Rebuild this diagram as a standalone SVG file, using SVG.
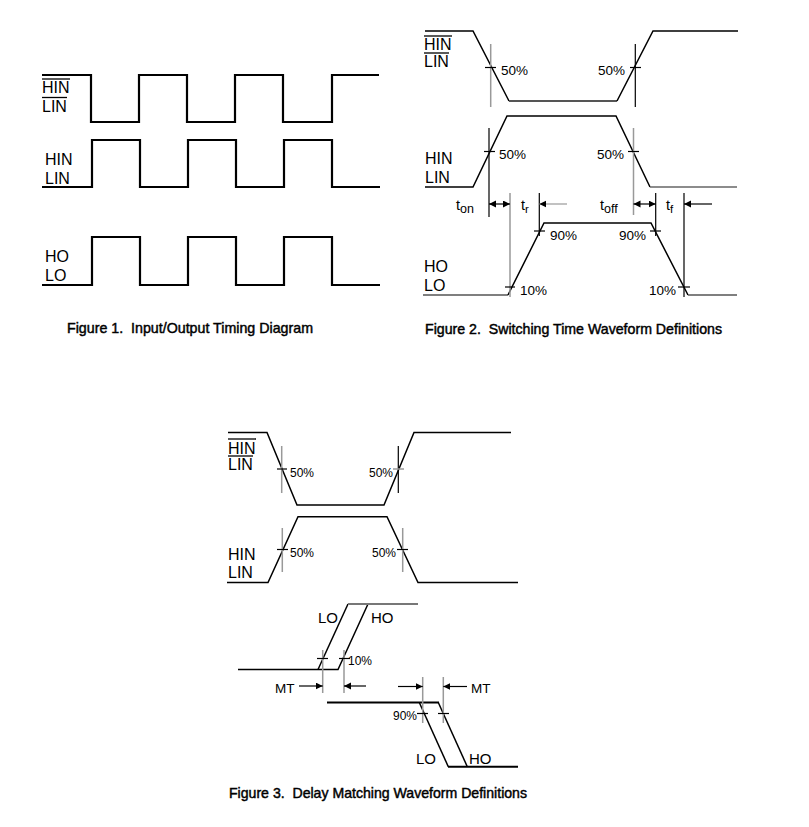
<svg xmlns="http://www.w3.org/2000/svg" width="809" height="827" viewBox="0 0 809 827">
<style>
text{font-family:"Liberation Sans",Arial,sans-serif;fill:#000}
.lbl{font-size:16px}
.pct{font-size:13.5px}
.pct3{font-size:12px}
.cap{font-size:14.5px;stroke:#000;stroke-width:0.45;white-space:pre}
.w1{fill:none;stroke:#000;stroke-width:2.2}
.w{fill:none;stroke:#000;stroke-width:1.5}
.wg{fill:none;stroke:#777;stroke-width:2}
.wb{fill:none;stroke:#000;stroke-width:2}
.mk{stroke:#000;stroke-width:1.2;fill:none}
.mg{stroke:#999;stroke-width:1.5;fill:none}
.ov{stroke:#000;stroke-width:1.3}
.ar{stroke:#000;stroke-width:1.2;fill:none;marker-end:url(#ah)}
.arg{stroke:#999;stroke-width:1.2;fill:none;marker-end:url(#ah)}
.dbl{stroke:#000;stroke-width:1.2;fill:none;marker-start:url(#ahs);marker-end:url(#ah)}
</style>
<defs>
<marker id="ah" markerUnits="userSpaceOnUse" markerWidth="8" markerHeight="8" refX="7" refY="3.5" orient="auto"><path d="M0,0 L7,3.5 L0,7 z" fill="#000"/></marker>
<marker id="ahs" markerUnits="userSpaceOnUse" markerWidth="8" markerHeight="8" refX="7" refY="3.5" orient="auto-start-reverse"><path d="M0,0 L7,3.5 L0,7 z" fill="#000"/></marker>
</defs>
<rect width="809" height="827" fill="#fff"/>

<!-- Figure 1 -->
<g id="fig1">
<g id="f1-hinbar">
<polyline class="w1" points="42,75 91,75 91,122 139,122 139,75 187,75 187,122 235,122 235,75 283,75 283,122 332,122 332,75 379,75"/>
<text class="lbl" x="42" y="93">HIN</text>
<line class="ov" x1="42" y1="79" x2="70" y2="79"/>
<text class="lbl" x="42" y="112">LIN</text>
<line class="ov" x1="42" y1="97.5" x2="67" y2="97.5"/>
</g>
<g id="f1-hin">
<polyline class="w1" points="42,187 92,187 92,140 140,140 140,187 188,187 188,140 236,140 236,187 284,187 284,140 332,140 332,187 380,187"/>
<text class="lbl" x="45" y="165">HIN</text>
<text class="lbl" x="45" y="184">LIN</text>
</g>
<g id="f1-ho">
<polyline class="w1" points="42,285 92,285 92,237 140,237 140,285 188,285 188,237 236,237 236,285 284,285 284,237 332,237 332,285 380,285"/>
<text class="lbl" x="45" y="262">HO</text>
<text class="lbl" x="45" y="281">LO</text>
</g>
<text id="cap1" class="cap" x="67" y="333" textLength="246" lengthAdjust="spacingAndGlyphs">Figure 1.  Input/Output Timing Diagram</text>
</g>

<!-- Figure 2 -->
<g id="fig2">
<g id="f2-hinbar">
<polyline class="w" points="425,31 473,31 509,101"/>
<polyline fill="none" stroke="#555" stroke-width="1.8" points="509,101 617,101"/>
<polyline class="w" points="617,101 653,31 738,31"/>
<text class="lbl" x="424" y="50">HIN</text>
<line class="ov" x1="424" y1="36" x2="452" y2="36"/>
<text class="lbl" x="424" y="67">LIN</text>
<line class="ov" x1="424" y1="53" x2="449" y2="53"/>
</g>
<g id="f2-hin">
<polyline class="w" points="425,187 473,187 507,116 616,116 650,187"/>
<polyline fill="none" stroke="#666" stroke-width="1.5" points="650,187 737,187"/>
<text class="lbl" x="425" y="164">HIN</text>
<text class="lbl" x="425" y="183">LIN</text>
</g>
<g id="f2-ho">
<polyline fill="none" stroke="#555" stroke-width="1.5" points="423,295 508,295"/>
<polyline class="w" points="508,295 544,223 651,223 688,295"/>
<polyline fill="none" stroke="#555" stroke-width="1.5" points="688,295 737,295"/>
<text class="lbl" x="424" y="272">HO</text>
<text class="lbl" x="424" y="291">LO</text>
</g>
<g id="f2-markers">
<line class="mg" x1="490.7" y1="44" x2="490.7" y2="107"/>
<line class="mk" x1="485" y1="67.5" x2="496" y2="67.5"/>
<text class="pct" x="501" y="75">50%</text>
<line class="mk" x1="635.3" y1="44" x2="635.3" y2="107"/>
<line class="mk" x1="630" y1="67.5" x2="641" y2="67.5"/>
<text class="pct" x="598" y="75">50%</text>
<line class="mk" x1="489" y1="128" x2="489" y2="217"/>
<line class="mk" x1="484" y1="151.5" x2="495" y2="151.5"/>
<text class="pct" x="499" y="159">50%</text>
<line class="mg" x1="633.5" y1="128" x2="633.5" y2="215"/>
<line class="mk" x1="628" y1="151.5" x2="639" y2="151.5"/>
<text class="pct" x="597" y="159">50%</text>
<line class="mg" x1="510" y1="193" x2="510" y2="297"/>
<line class="mk" x1="505" y1="287" x2="515" y2="287"/>
<text class="pct" x="520" y="295">10%</text>
<line class="mk" x1="539.3" y1="193" x2="539.3" y2="236"/>
<line class="mk" x1="534" y1="231" x2="545" y2="231"/>
<text class="pct" x="550" y="240">90%</text>
<line class="mk" x1="655.7" y1="193" x2="655.7" y2="236"/>
<line class="mk" x1="650" y1="231" x2="661" y2="231"/>
<text class="pct" x="619" y="240">90%</text>
<line class="mk" x1="684" y1="193" x2="684" y2="297"/>
<line class="mk" x1="678" y1="287" x2="690" y2="287"/>
<text class="pct" x="649" y="295">10%</text>
</g>
<g id="f2-times">
<line class="dbl" x1="489" y1="204" x2="510" y2="204"/>
<line class="dbl" x1="633.5" y1="204" x2="655.7" y2="204"/>
<line class="arg" x1="567" y1="204" x2="539.3" y2="204"/>
<line class="ar" x1="712" y1="204" x2="684" y2="204"/>
<text x="456" y="210" font-size="14.5">t<tspan font-size="12.5" dy="3">on</tspan></text>
<text x="521" y="210" font-size="14.5">t<tspan font-size="11.5" dy="3">r</tspan></text>
<text x="600" y="210" font-size="14.5">t<tspan font-size="12.5" dy="3">off</tspan></text>
<text x="666" y="210" font-size="14.5">t<tspan font-size="11.5" dy="3">f</tspan></text>
</g>
<text id="cap2" class="cap" x="425" y="334" textLength="297" lengthAdjust="spacingAndGlyphs">Figure 2.  Switching Time Waveform Definitions</text>
</g>

<!-- Figure 3 -->
<g id="fig3">
<g id="f3-hinbar">
<polyline class="w" points="228,432.5 267,432.5 297,505 384,505 414,432.5 511,432.5"/>
<text class="lbl" x="228" y="453.5">HIN</text>
<line class="ov" x1="228" y1="439" x2="256" y2="439"/>
<text class="lbl" x="228" y="470">LIN</text>
<line class="ov" x1="228" y1="456" x2="253" y2="456"/>
<line class="mg" x1="281.7" y1="446" x2="281.7" y2="493"/>
<line class="mk" x1="277" y1="469" x2="287" y2="469"/>
<text class="pct3" x="290" y="477">50%</text>
<line class="mk" x1="398.3" y1="446" x2="398.3" y2="493"/>
<line class="mg" x1="393" y1="469" x2="404" y2="469"/>
<text class="pct3" x="369" y="477">50%</text>
</g>
<g id="f3-hin">
<polyline class="w" points="227,582.5 268,582.5 298,516.7 387,516.7 418,582.5 518,582.5"/>
<text class="lbl" x="228" y="560">HIN</text>
<text class="lbl" x="228" y="578">LIN</text>
<line class="mg" x1="282.3" y1="528" x2="282.3" y2="572"/>
<line class="mk" x1="277" y1="549.5" x2="288" y2="549.5"/>
<text class="pct3" x="290" y="557" font-size="11">50%</text>
<line class="mg" x1="402.7" y1="528" x2="402.7" y2="572"/>
<line class="mk" x1="397" y1="549.5" x2="408" y2="549.5"/>
<text class="pct3" x="372" y="557" font-size="11">50%</text>
</g>
<g id="f3-rise">
<polyline class="w" points="238,669.5 338,669.5 368,604"/>
<polyline class="w" points="318,669.5 348,604"/>
<polyline class="wg" points="348,604 418,604"/>
<text x="318" y="623" font-size="15">LO</text>
<text x="371" y="623" font-size="15">HO</text>
<line class="mg" x1="322.7" y1="650" x2="322.7" y2="693"/>
<line class="mk" x1="317" y1="658.5" x2="328" y2="658.5"/>
<line class="mg" x1="344" y1="650" x2="344" y2="693"/>
<line class="mk" x1="339" y1="658.5" x2="350" y2="658.5"/>
<text class="pct3" x="348" y="665">10%</text>
</g>
<g id="f3-fall">
<polyline class="wb" points="327,702.5 439,702.5"/>
<polyline class="w" points="419.3,702.5 448.3,766.7"/>
<polyline class="w" points="438.3,702.5 467.3,766.7"/>
<polyline class="wb" points="448,766.7 518,766.7"/>
<text x="416" y="764" font-size="15">LO</text>
<text x="469" y="764" font-size="15">HO</text>
<line class="mg" x1="422.7" y1="677" x2="422.7" y2="723"/>
<line class="mk" x1="417" y1="713.5" x2="428" y2="713.5"/>
<line class="mg" x1="443.3" y1="677" x2="443.3" y2="723"/>
<line class="mk" x1="438" y1="713.5" x2="449" y2="713.5"/>
<text class="pct3" x="393" y="720">90%</text>
</g>
<g id="f3-mt">
<line class="ar" x1="299" y1="686" x2="322.7" y2="686"/>
<line class="ar" x1="366" y1="686" x2="344" y2="686"/>
<line class="ar" x1="398" y1="686.5" x2="422.7" y2="686.5"/>
<line class="ar" x1="467" y1="686.5" x2="443.3" y2="686.5"/>
<text x="275" y="693" font-size="13.5">MT</text>
<text x="471" y="693" font-size="13.5">MT</text>
</g>
<text id="cap3" class="cap" x="229" y="798" textLength="298" lengthAdjust="spacingAndGlyphs">Figure 3.  Delay Matching Waveform Definitions</text>
</g>
</svg>
